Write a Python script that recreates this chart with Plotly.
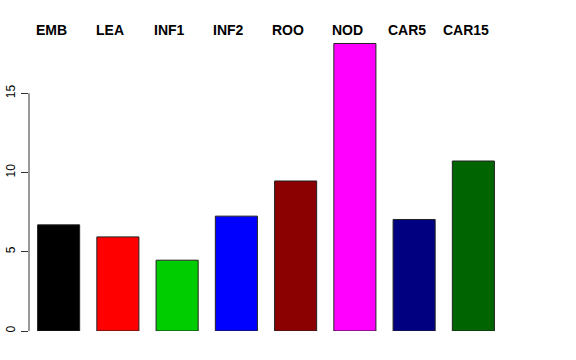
import plotly.graph_objects as go

categories = ["EMB", "LEA", "INF1", "INF2", "ROO", "NOD", "CAR5", "CAR15"]
values = [6.70, 5.94, 4.47, 7.25, 9.47, 18.15, 7.04, 10.73]
colors = ["#000000", "#FF0000", "#00CD00", "#0000FF", "#8B0000", "#FF00FF", "#000080", "#006400"]
y_ticks = [0, 5, 10, 15]

fig = go.Figure()
fig.add_trace(go.Bar(
    x=categories, y=values,
    marker=dict(color=colors, line=dict(color="#222222", width=1)),
    showlegend=False,
))

for c in categories:
    fig.add_annotation(
        x=c, y=1, xref="x", yref="paper", text="<b>%s</b>" % c,
        showarrow=False, xshift=-7.5, yanchor="middle", xanchor="center",
        font=dict(family="Liberation Sans, Arial, sans-serif", size=14, color="#000000"),
    )

fig.add_shape(type="line", xref="paper", yref="y", x0=0, x1=0, y0=y_ticks[0], y1=y_ticks[-1],
              line=dict(color="#333333", width=1))

fig.update_layout(
    width=576, height=360,
    margin=dict(l=29, r=73, t=30, b=29, autoexpand=False),
    paper_bgcolor="white", plot_bgcolor="white",
    bargap=0.29,
    font=dict(family="Liberation Sans, Arial, sans-serif", size=12, color="#000000"),
    xaxis=dict(range=[-0.5, 7.5], showticklabels=False, showgrid=False, zeroline=False,
               showline=False, ticks="", automargin=False),
    yaxis=dict(range=[0, 19], tickvals=y_ticks, ticktext=[str(v) for v in y_ticks],
               tickangle=-90, ticks="outside", ticklen=7, tickcolor="#333333",
               showgrid=False, zeroline=False, showline=False, ticklabelstandoff=1,
               automargin=False),
)

fig.write_html("out.html", config={"displayModeBar": False},
               post_script="document.body.style.margin='0';")
